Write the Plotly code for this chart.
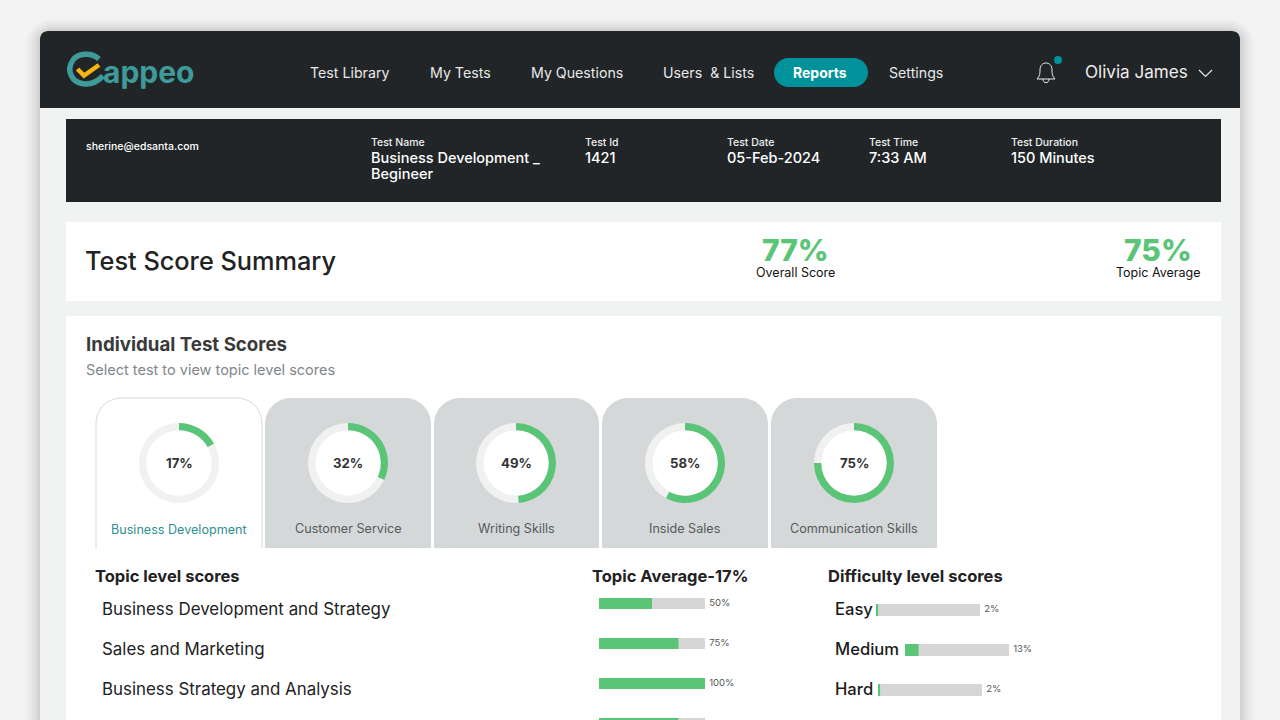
import plotly.graph_objects as go

W, H = 1280, 720

# ---- data ----
test_names = ["Business Development", "Customer Service", "Writing Skills", "Inside Sales", "Communication Skills"]
test_scores = [17, 32, 49, 58, 75]
topic_names = ["Business Development and Strategy", "Sales and Marketing", "Business Strategy and Analysis", "Client Relationship Management"]
topic_scores = [50, 75, 100, 75]
difficulty_names = ["Easy", "Medium", "Hard"]
difficulty_scores = [2, 13, 2]
nav_items = ["Test Library", "My Tests", "My Questions", "Users  & Lists", "Reports", "Settings"]
info_heads = ["Test Name", "Test Id", "Test Date", "Test Time", "Test Duration"]
info_values = ["Business Development _", "1421", "05-Feb-2024", "7:33 AM", "150 Minutes"]
info_value_second_line = "Begineer"

# ---- style ----
FONT = "Inter"
DARK = "#212527"
TEAL = "#00929b"
LOGO = "#3f9a9a"
GREEN = "#5ac477"
TRACK = "#d6d6d6"
RING = "#f1f1f1"
CARD = "#d5d8d9"

px = lambda x: x / W
py = lambda y: 1 - y / H


def P(x, y):
    return f"{px(x):.5f},{py(y):.5f}"


def rr(x0, y0, x1, y1, r, bottom=True):
    k = r * 0.45
    d = f"M{P(x0, y0 + r)} C{P(x0, y0 + k)} {P(x0 + k, y0)} {P(x0 + r, y0)} L{P(x1 - r, y0)} C{P(x1 - k, y0)} {P(x1, y0 + k)} {P(x1, y0 + r)} "
    if bottom:
        d += f"L{P(x1, y1 - r)} C{P(x1, y1 - k)} {P(x1 - k, y1)} {P(x1 - r, y1)} L{P(x0 + r, y1)} C{P(x0 + k, y1)} {P(x0, y1 - k)} {P(x0, y1 - r)} Z"
    else:
        d += f"L{P(x1, y1)} L{P(x0, y1)} Z"
    return d


shapes = []


def add_path(d, fill="rgba(0,0,0,0)", line=None, lw=0, closed=True):
    shapes.append(dict(type="path", xref="paper", yref="paper", path=d, fillcolor=fill if closed else "rgba(0,0,0,0)",
                       line=dict(color=line or "rgba(0,0,0,0)", width=lw), layer="below"))


def add_rect(x0, y0, x1, y1, fill):
    shapes.append(dict(type="rect", xref="paper", yref="paper", x0=px(x0), x1=px(x1), y0=py(y1), y1=py(y0),
                       fillcolor=fill, line=dict(width=0), layer="below"))


def add_circle(cx, cy, r, fill="rgba(0,0,0,0)", line=None, lw=0):
    shapes.append(dict(type="circle", xref="paper", yref="paper", x0=px(cx - r), x1=px(cx + r), y0=py(cy + r), y1=py(cy - r),
                       fillcolor=fill, line=dict(color=line or "rgba(0,0,0,0)", width=lw), layer="below"))


def polyline(points, color, lw):
    d = "M" + " L".join(P(x, y) for x, y in points)
    add_path(d, line=color, lw=lw, closed=False)


annotations = []


def text(x, y, s, size, color="#222222", anchor="left", weight=400):
    annotations.append(dict(xref="paper", yref="paper", x=px(x), y=py(y), text=s, showarrow=False, xanchor=anchor, yanchor="middle",
                            align=anchor, font=dict(family=FONT, size=size, color=color, weight=weight), borderpad=0, borderwidth=0))


# page shadow + frame
for i, a in zip(range(16, 0, -2), [0.008, 0.01, 0.012, 0.014, 0.016, 0.02, 0.024, 0.03]):
    add_path(rr(40 - i, 31 - i * 0.8, 1240 + i, 760, 12 + i), fill=f"rgba(0,0,0,{a})")
add_path(rr(40, 31, 1240, 760, 8), fill="#f1f3f2")
add_path(rr(40, 31, 1240, 108, 8, bottom=False), fill=DARK)
add_rect(66, 119, 1221, 202, DARK)
add_rect(66, 222, 1221, 301, "#ffffff")
add_rect(66, 316, 1221, 760, "#ffffff")

# logo
add_path(f"M{P(99, 59)} C{P(91, 52)} {P(78, 53)} {P(73, 60)} C{P(66, 70)} {P(71, 83)} {P(85, 84)} C{P(92, 84.5)} {P(98, 81)} {P(103, 76)}",
         line=LOGO, lw=5.5, closed=False)
polyline([(77.5, 69), (84, 75.5), (99, 65)], "#f6b60f", 4.5)
text(103, 72.5, "appeo", 30, LOGO, weight=700)

# navigation
nav_x = [349.5, 460, 576.5, 708, 820, 916]
add_path(rr(774, 58, 868, 87, 14.5), fill=TEAL)
for name, x in zip(nav_items, nav_x):
    if name == "Reports":
        text(x, 73, name, 14, "#ffffff", "center", 700)
    else:
        text(x, 73, name, 14.2, "#e8e8e8", "center")

# bell + user
add_path(f"M{P(1037, 79)} C{P(1040, 76)} {P(1040, 73)} {P(1040, 70)} C{P(1040, 65)} {P(1043, 63)} {P(1046, 63)} "
         f"C{P(1049, 63)} {P(1052, 65)} {P(1052, 70)} C{P(1052, 73)} {P(1052, 76)} {P(1055, 79)} Z", line="#e8e8e8", lw=1)
add_path(f"M{P(1043, 79)} C{P(1043, 84)} {P(1049, 84)} {P(1049, 79)}", line="#e8e8e8", lw=1, closed=False)
add_circle(1058, 60, 4, fill=TEAL)
text(1085, 72, "Olivia James", 17.1, "#eeeeee")
polyline([(1199, 70), (1205.5, 76.5), (1212, 70)], "#e8e8e8", 1.2)

# info bar
text(86, 147, "sherine@edsanta.com", 10.5, "#ffffff", weight=500)
for h, v, x in zip(info_heads, info_values, [371, 585, 727, 869, 1011]):
    text(x, 143, h, 10.5, "#f0f0f0", weight=500)
    text(x, 157.5, v, 14.5, "#ffffff", weight=500)
text(371, 174, info_value_second_line, 14.5, "#ffffff", weight=500)

# summary
text(85, 260, "Test Score Summary", 25.3, "#222222", weight=500)
text(795, 249.5, "77%", 30, GREEN, "center", 800)
text(795, 272.5, "Overall Score", 12.5, "#111111", "center")
text(1158, 249.5, "75%", 30, GREEN, "center", 800)
text(1158, 272.5, "Topic Average", 12.5, "#111111", "center")

# individual scores
text(86, 344.5, "Individual Test Scores", 18.7, "#3a3a3a", weight=700)
text(86, 370, "Select test to view topic level scores", 14.5, "#80868a")

# cards + donuts
card_x = [(96, 262), (265, 431), (434, 599), (602, 768), (771, 937)]
donut_cx = [179, 348, 516, 685, 854]
DONUT_CY = 463
DONUT_R = 40
traces = []
for i, (name, score, (x0, x1), cx) in enumerate(zip(test_names, test_scores, card_x, donut_cx)):
    if i == 0:
        add_path(rr(x0, 398, x1, 548, 26, bottom=False), fill="#ffffff")
        add_path(f"M{P(x0, 548)} L{P(x0, 424)} C{P(x0, 409)} {P(x0 + 11, 398)} {P(x0 + 26, 398)} L{P(x1 - 26, 398)} C{P(x1 - 11, 398)} {P(x1, 409)} {P(x1, 424)} L{P(x1, 548)}",
                 line="#d8d8d8", lw=1, closed=False)
    else:
        add_path(rr(x0, 398, x1, 548, 26, bottom=False), fill=CARD)
        add_circle(cx, DONUT_CY, 33, fill="#ffffff")
    traces.append(go.Pie(values=[score, 100 - score], hole=0.82, sort=False, direction="clockwise", rotation=0,
                         marker=dict(colors=[GREEN, RING], line=dict(width=0)), textinfo="none", hoverinfo="skip", showlegend=False,
                         domain=dict(x=[px(cx - DONUT_R), px(cx + DONUT_R)], y=[py(DONUT_CY + DONUT_R), py(DONUT_CY - DONUT_R)])))
    text(cx, DONUT_CY, f"{score}%", 13.2, "#333333", "center", 700)
    text(cx, 529.5 if i == 0 else 528.5, name, 12.6, "#2f9090" if i == 0 else "#555a5d", "center")

# section headings
text(95, 576, "Topic level scores", 16.5, "#222222", weight=700)
text(592, 576, "Topic Average-17%", 16.5, "#222222", weight=700)
text(828, 576, "Difficulty level scores", 16.5, "#222222", weight=700)

for name, y in zip(topic_names, [609, 649, 689, 729]):
    text(102, y, name, 16.9, "#222222")
for name, y in zip(difficulty_names, [609, 649, 689]):
    text(835, y, name, 16.6, "#1c1c1c", weight=500)

layout_axes = {}


def axis_pair(n, xdom, ydom, yrange, ycats):
    layout_axes[f"xaxis{n}"] = dict(domain=[px(xdom[0]), px(xdom[1])], range=[0, 100], visible=False, anchor=f"y{n}", fixedrange=True)
    layout_axes[f"yaxis{n}"] = dict(domain=[py(ydom[1]), py(ydom[0])], range=yrange, type="category", categoryorder="array", categoryarray=ycats,
                                    visible=False, anchor=f"x{n}", fixedrange=True)


def bars(n, names, values, width):
    x_ref, y_ref = f"x{n}", f"y{n}"
    traces.append(go.Bar(x=[100] * len(values), y=names, orientation="h", marker=dict(color=TRACK, line=dict(width=0)), width=width,
                         xaxis=x_ref, yaxis=y_ref, hoverinfo="skip", showlegend=False))
    traces.append(go.Bar(x=values, y=names, orientation="h", marker=dict(color=GREEN, line=dict(width=0)), width=width,
                         xaxis=x_ref, yaxis=y_ref, hoverinfo="skip", showlegend=False))
    traces.append(go.Scatter(x=[100] * len(values), y=names, mode="markers+text", text=[f"{v}%" for v in values], textposition="middle right",
                             marker=dict(size=5, opacity=0), textfont=dict(family=FONT, size=9.5, color="#555555"),
                             xaxis=x_ref, yaxis=y_ref, hoverinfo="skip", showlegend=False, cliponaxis=False))


# topic bars: row spacing 40 px, first centre at y=603.5
axis_pair(2, (599, 705), (590, 720), [(720 - 603.5) / 40, (590 - 603.5) / 40], topic_names)
bars(2, topic_names, topic_scores, 11 / 40)

# difficulty bars: each row has its own start
starts = [(876, 980, 610), (905, 1009, 650), (878, 982, 690)]
for j, (name, val, (x0, x1, cy)) in enumerate(zip(difficulty_names, difficulty_scores, starts)):
    n = 3 + j
    axis_pair(n, (x0, x1), (cy - 10, cy + 10), [0.5, -0.5], [name])
    bars(n, [name], [val], 12 / 20)

fig = go.Figure(data=traces)
fig.update_layout(width=W, height=H, margin=dict(l=0, r=0, t=0, b=0), paper_bgcolor="#f3f3f3", plot_bgcolor="rgba(0,0,0,0)",
                  barmode="overlay", shapes=shapes, annotations=annotations, showlegend=False, **layout_axes)
fig.write_html("out.html", config=dict(displayModeBar=False),
               post_script="document.body.style.margin='0';document.body.style.overflow='hidden';")
